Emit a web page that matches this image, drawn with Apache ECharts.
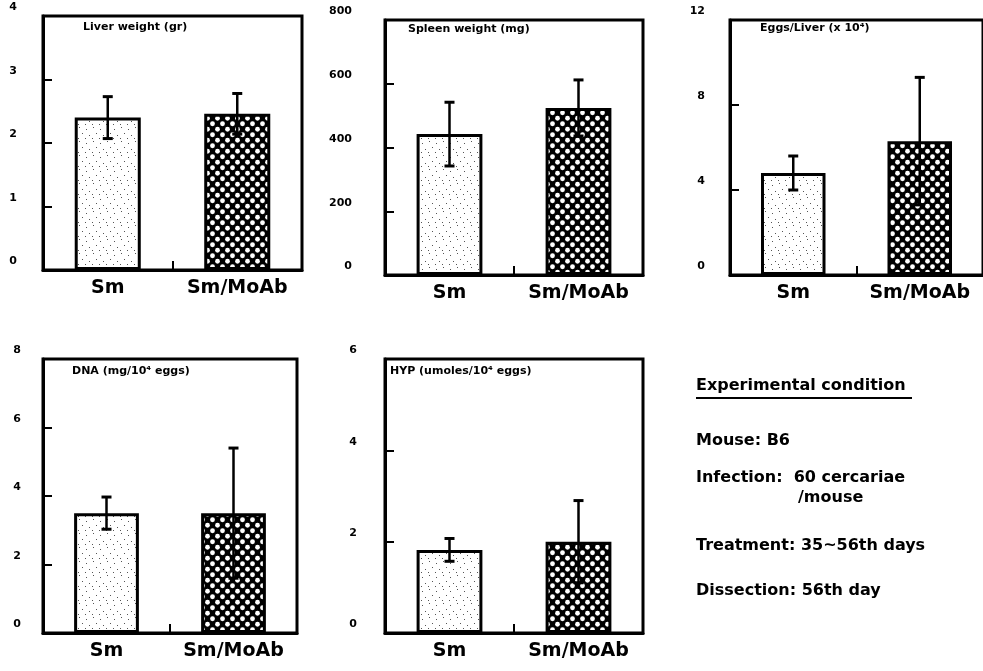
<!DOCTYPE html>
<html>
<head>
<meta charset="utf-8">
<script src="https://cdn.jsdelivr.net/npm/echarts@6/dist/echarts.min.js"></script>
<style>
  html, body { margin: 0; padding: 0; background: #fff; }
  #chart { width: 983px; height: 671px; }
</style>
</head>
<body>
<div id="chart"></div>
<script>
// Groups compared in every panel
const categories = ['Sm', 'Sm/MoAb'];

// Panel headings
const panelTitles = [
  'Liver weight (gr)',
  'Spleen weight (mg)',
  'Eggs/Liver (x 10\u2074)',
  'DNA (mg/10\u2074 eggs)',
  'HYP (umoles/10\u2074 eggs)'
];

// Means and error half-widths per group
const liverMean = [2.40, 2.46];
const liverErr = [0.33, 0.32];
const spleenMean = [442, 524];
const spleenErr = [100, 88];
const eggsMean = [4.8, 6.3];
const eggsErr = [0.8, 3.0];
const dnaMean = [3.5, 3.5];
const dnaErr = [0.47, 1.9];
const hypMean = [1.82, 2.0];
const hypErr = [0.25, 0.9];

// Y-axis ranges and tick steps
const yMax = [4, 800, 12, 8, 6];
const yStep = [1, 200, 4, 2, 2];

// Side notes
const conditionHeading = 'Experimental condition';
const conditionLines = [
  'Mouse: B6',
  'Infection:  60 cercariae',
  '/mouse',
  'Treatment: 35~56th days',
  'Dissection: 56th day'
];

const means = [liverMean, spleenMean, eggsMean, dnaMean, hypMean];
const errs = [liverErr, spleenErr, eggsErr, dnaErr, hypErr];

const FONT = '"DejaVu Sans", sans-serif';

// Plot rectangles of the five panels
const grids = [
  { left: 43, top: 16, width: 259, height: 254 },
  { left: 385, top: 20, width: 258, height: 255 },
  { left: 730, top: 20, width: 253, height: 255 },
  { left: 43, top: 359, width: 254, height: 274 },
  { left: 385, top: 359, width: 258, height: 274 }
];
const labelMargins = [26, 33, 25, 22, 28];
const titlePos = [[83, 22], [408, 24], [760, 23], [72, 366], [390, 366]];

// Black fill with staggered white dots
function dotTile() {
  const c = document.createElement('canvas');
  c.width = 10; c.height = 11;
  const g = c.getContext('2d');
  g.fillStyle = '#000';
  g.fillRect(0, 0, 10, 11);
  g.fillStyle = '#fff';
  [[2.5, 2.75], [7.5, 8.25]].forEach(function (p) {
    g.beginPath();
    g.arc(p[0], p[1], 2.4, 0, Math.PI * 2);
    g.fill();
  });
  return c;
}
// Sparse light stipple
function stippleTile() {
  const c = document.createElement('canvas');
  c.width = 14; c.height = 14;
  const g = c.getContext('2d');
  g.fillStyle = '#fff';
  g.fillRect(0, 0, 14, 14);
  g.fillStyle = '#555';
  [[2, 3], [9, 1], [5, 9], [12, 7], [1, 12], [8, 12]].forEach(function (p) {
    g.fillRect(p[0], p[1], 1, 1);
  });
  return c;
}
const darkFill = { image: dotTile(), repeat: 'repeat' };
const lightFill = { image: stippleTile(), repeat: 'repeat' };

function renderErr(params, api) {
  const x = api.value(0), m = api.value(1), e = api.value(2);
  const top = api.coord([x, m + e]);
  const bot = api.coord([x, m - e]);
  const half = 5;
  const st = { stroke: '#000', lineWidth: 2.5 };
  return {
    type: 'group',
    children: [
      { type: 'line', shape: { x1: top[0], y1: top[1], x2: bot[0], y2: bot[1] }, style: st },
      { type: 'line', shape: { x1: top[0] - half, y1: top[1], x2: top[0] + half, y2: top[1] }, style: { stroke: '#000', lineWidth: 3 } },
      { type: 'line', shape: { x1: bot[0] - half, y1: bot[1], x2: bot[0] + half, y2: bot[1] }, style: { stroke: '#000', lineWidth: 3 } }
    ]
  };
}

const option = {
  animation: false,
  backgroundColor: '#fff',
  grid: [], xAxis: [], yAxis: [], series: [], title: [], graphic: []
};

grids.forEach(function (g, i) {
  option.grid.push(Object.assign({ show: true, borderColor: '#000', borderWidth: 3, backgroundColor: 'transparent' }, g));
  option.xAxis.push({
    type: 'category', gridIndex: i, data: categories, z: 5,
    axisLine: { lineStyle: { color: '#000', width: 3 } },
    axisTick: { show: true, interval: 0, inside: true, length: 9, lineStyle: { color: '#000', width: 2 } },
    axisLabel: { interval: 0, hideOverlap: false, color: '#000', fontFamily: FONT, fontWeight: 'bold', fontSize: 19, margin: 9 }
  });
  option.yAxis.push({
    type: 'value', gridIndex: i, min: 0, max: yMax[i], interval: yStep[i],
    splitLine: { show: false },
    axisLine: { show: true, lineStyle: { color: '#000', width: 3 } },
    axisTick: { show: true, inside: true, length: 9, lineStyle: { color: '#000', width: 2 } },
    axisLabel: {
      color: '#000', fontFamily: FONT, fontWeight: 'bold', fontSize: 11,
      margin: labelMargins[i], verticalAlign: 'bottom', padding: [0, 0, 3, 0]
    }
  });
  option.series.push({
    type: 'bar', xAxisIndex: i, yAxisIndex: i, barWidth: '51%', z: 2,
    data: means[i].map(function (v, k) {
      return {
        value: v,
        itemStyle: { color: k === 0 ? lightFill : darkFill, borderColor: '#000', borderWidth: 3 }
      };
    })
  });
  option.series.push({
    type: 'custom', xAxisIndex: i, yAxisIndex: i, z: 3,
    renderItem: renderErr,
    encode: { x: 0, y: 1 },
    data: means[i].map(function (v, k) { return [k, v, errs[i][k]]; })
  });
  option.title.push({
    text: panelTitles[i], left: titlePos[i][0], top: titlePos[i][1], padding: 0,
    textStyle: { fontFamily: FONT, fontWeight: 'bold', fontSize: 11, color: '#000' }
  });
});

// Side notes block
const noteStyle = { fontFamily: FONT, fontWeight: 'bold', fontSize: 16, fill: '#000' };
const noteY = [440, 477, 497, 545, 590];
const noteX = [696, 696, 798, 696, 696];
option.graphic.push({
  type: 'text', left: 696, top: 378,
  style: Object.assign({ text: conditionHeading }, noteStyle)
});
option.graphic.push({
  type: 'line', shape: { x1: 696, y1: 398, x2: 912, y2: 398 },
  style: { stroke: '#000', lineWidth: 2 }
});
conditionLines.forEach(function (t, k) {
  option.graphic.push({
    type: 'text', left: noteX[k], top: noteY[k] - 7,
    style: Object.assign({ text: t }, noteStyle)
  });
});

const chart = echarts.init(document.getElementById('chart'), null, { renderer: 'canvas' });
chart.setOption(option);
</script>
</body>
</html>
